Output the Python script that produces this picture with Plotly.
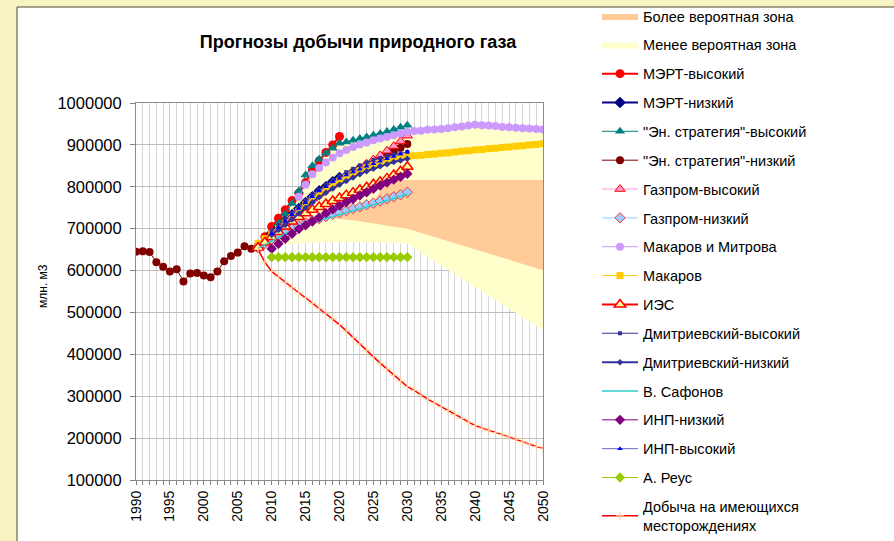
import plotly.graph_objects as go

# ---------------- data ----------------
years_hist = [1990, 1991, 1992, 1993, 1994, 1995, 1996, 1997, 1998, 1999,
              2000, 2001, 2002, 2003, 2004, 2005, 2006, 2007]
hist_vals = [645000, 646000, 644000, 620000, 609000, 598000, 603000, 574000, 593000, 594000,
             588000, 584000, 598000, 622000, 635000, 643000, 658000, 652000]

years_08_20 = list(range(2008, 2021))
years_08_30 = list(range(2008, 2031))
years_10_30 = list(range(2010, 2031))
years_08_50 = list(range(2008, 2051))
years_09_50 = list(range(2009, 2051))
years_14_50 = list(range(2014, 2051))
years_15_50 = list(range(2015, 2051))

mert_high = [654000, 681000, 705000, 725000, 745000, 767000, 785000, 810000, 840000,
             862000, 882000, 900000, 920000]
mert_low = [655000, 668000, 688000, 702000, 718000, 733000, 748000, 762000, 776000,
            790000, 800000, 812000, 822000]
es_high = [655000, 672000, 692000, 712000, 735000, 760000, 790000, 828000, 850000, 866000,
           880000, 892000, 904000, 907000, 911000, 915000, 919000, 923000, 927000, 932000,
           937000, 942000, 947000]
es_low_proj = [660000, 672000, 686000, 700000, 714000, 728000, 742000, 755000, 768000, 781000,
               794000, 806000, 816000, 826000, 835000, 844000, 852000, 860000, 868000, 876000,
               884000, 893000, 902000]
gazprom_high = [655000, 672000, 688000, 702000, 716000, 730000, 745000, 760000, 772000, 784000,
                795000, 805000, 815000, 825000, 835000, 845000, 855000, 865000, 875000, 886000,
                897000, 909000, 922000]
gazprom_low = [655000, 665000, 675000, 685000, 693000, 700000, 707000, 714000, 719000, 724000,
               729000, 734000, 738000, 743000, 748000, 752000, 757000, 761000, 766000, 771000,
               776000, 781000, 787000]
makarov_mitrova = [776000, 805000, 830000, 845000, 858000, 870000, 880000, 888000, 895000, 901000,
                   906000, 911000, 915000, 919000, 923000, 927000, 931000, 933000, 934000, 936000,
                   937000, 938000, 940000, 942000, 944000, 946000, 948000, 947000, 946000, 945000,
                   943000, 942000, 941000, 940000, 939000, 938000, 937000]
makarov = [665000, 676000, 688000, 700000, 713000, 727000, 742000, 757000, 770000, 782000,
           793000, 804000, 814000, 823000, 831000, 839000, 846000, 852000, 857000, 862000,
           866000, 869000, 872000, 874000, 875000, 877000, 878000, 880000, 881000, 883000,
           885000, 886000, 888000, 889000, 891000, 892000, 894000, 895000, 897000, 898000,
           900000, 901000, 903000]
ies = [655000, 667000, 680000, 692000, 705000, 717000, 728000, 737000, 745000, 752000,
       759000, 766000, 773000, 780000, 786000, 793000, 799000, 806000, 812000, 820000,
       828000, 837000, 848000]
dmitr_high = [695000, 708000, 722000, 737000, 752000, 767000, 781000, 793000, 805000, 816000,
              826000, 835000, 843000, 851000, 858000, 864000, 869000, 873000, 877000, 880000,
              883000]
dmitr_low = [685000, 697000, 709000, 722000, 736000, 750000, 763000, 775000, 786000, 796000,
             805000, 814000, 822000, 830000, 837000, 843000, 849000, 854000, 859000, 863000,
             867000]
safonov = [653000, 662000, 671000, 680000, 688000, 695000, 702000, 709000, 714000, 719000,
           724000, 729000, 733000, 738000, 743000, 747000, 752000, 756000, 761000, 766000,
           771000, 776000, 782000]
inp_low = [652000, 664000, 676000, 688000, 699000, 708000, 717000, 727000, 737000, 746000,
           755000, 763000, 771000, 779000, 787000, 795000, 803000, 810000, 817000, 824000,
           831000]
inp_high = [688000, 702000, 718000, 733000, 748000, 762000, 776000, 790000, 800000, 812000,
            820000, 828000, 835000, 842000, 849000, 855000, 861000, 867000, 872000, 878000,
            884000]
reus = [632000, 632000, 632000, 632000, 632000, 632000, 632000, 632000, 632000, 632000,
        632000, 632000, 632000, 632000, 632000, 632000, 632000, 632000, 632000, 632000,
        632000]
decline = [650000, 620000, 598000, 585000, 571000, 559000, 547000, 535000, 522000, 510000,
           498000, 485000, 471000, 456000, 440000, 425000, 410000, 394000, 379000, 365000,
           350000, 336000, 323000, 314000, 303000, 293000, 284000, 275000, 266000, 256000,
           247000, 238000, 230000, 224000, 219000, 213000, 208000, 203000, 197000, 191000,
           186000, 180000, 176000]

zone_low_upper = [678000, 700000, 720000, 740000, 762000, 782000, 805000, 835000, 858000, 878000,
                  895000, 903000, 907000, 911000, 915000, 918000, 921000, 924000, 926000, 928000,
                  930000, 932000, 933000, 934000, 936000, 937000, 938000, 940000, 942000, 944000,
                  946000, 948000, 947000, 946000, 945000, 943000, 942000, 941000, 940000, 939000,
                  938000, 937000]
zone_low_lower = [655000, 658000, 660000, 662000, 664000, 665000, 666000, 667000, 668000, 668000,
                  668000, 668000, 668000, 668000, 668000, 668000, 667000, 667000, 666000, 666000,
                  665000, 664000, 654000, 643000, 633000, 622000, 612000, 602000, 591000, 581000,
                  571000, 561000, 550000, 540000, 530000, 520000, 509000, 499000, 489000, 479000,
                  468000, 458000]
zone_high_upper = [714000, 719000, 724000, 729000, 734000, 738000, 743000, 748000, 752000, 757000,
                   761000, 790000, 816000, 816000, 816000, 816000, 816000, 816000, 816000, 816000,
                   816000, 816000, 816000, 816000, 816000, 816000, 816000, 816000, 816000, 816000,
                   816000, 816000, 816000, 816000, 816000, 816000]
zone_high_lower = [714000, 720000, 724000, 725000, 725000, 724000, 722000, 720000, 718000, 716000,
                   713000, 710000, 707000, 704000, 702000, 700000, 695000, 690000, 685000, 680000,
                   675000, 670000, 665000, 660000, 655000, 650000, 645000, 640000, 636000, 631000,
                   626000, 621000, 616000, 611000, 606000, 601000]

x_tick_labels = ["1990", "1995", "2000", "2005", "2010", "2015", "2020", "2025", "2030",
                 "2035", "2040", "2045", "2050"]
y_tick_labels = ["100000", "200000", "300000", "400000", "500000", "600000", "700000",
                 "800000", "900000", "1000000"]

# ---------------- figure ----------------
FONT = "Arial, 'Liberation Sans', sans-serif"
W, H = 894, 541
L, R, T, B = 136, 543, 103, 480

fig = go.Figure()
rank = [0]

def next_rank():
    rank[0] += 1
    return rank[0]

def zone(name, xs, upper, lower, color, lrank):
    fig.add_trace(go.Scatter(
        x=xs + xs[::-1], y=upper + lower[::-1], name=name, mode="lines",
        fill="toself", fillcolor=color, line=dict(width=0, color=color),
        legendgroup=name, legendrank=lrank, hoverinfo="skip"))

zone("Менее вероятная зона", years_09_50, zone_low_upper, zone_low_lower, "#FFFFCC", 2)
zone("Более вероятная зона", years_15_50, zone_high_upper, zone_high_lower, "#FFCC99", 1)

def series(name, xs, ys, lcolor, lwidth, symbol=None, msize=8, mcolor=None,
           mline=None, mlw=0):
    mode = "lines+markers" if symbol else "lines"
    marker = dict(symbol=symbol, size=msize, color=mcolor or lcolor,
                  line=dict(color=mline or (mcolor or lcolor), width=mlw)) if symbol else None
    fig.add_trace(go.Scatter(x=xs, y=ys, name=name, mode=mode,
                             line=dict(color=lcolor, width=lwidth),
                             marker=marker, legendgroup=name,
                             legendrank=10 + next_rank()))

series("МЭРТ-высокий", years_08_20, mert_high, "#FF0000", 2, "circle", 9)
series("МЭРТ-низкий", years_08_20, mert_low, "#000080", 2, "diamond", 9)
series("\"Эн. стратегия\"-высокий", years_08_30, es_high, "#008080", 1, "triangle-up", 9)
series("\"Эн. стратегия\"-низкий", years_hist + years_08_30, hist_vals + es_low_proj,
       "#800000", 1, "circle", 8)
series("Газпром-высокий", years_08_30, gazprom_high, "#FF99CC", 1, "triangle-up", 9,
       mcolor="#FF99CC", mline="#FF0000", mlw=1)
series("Газпром-низкий", years_08_30, gazprom_low, "#99CCFF", 1, "diamond", 8,
       mcolor="#99CCFF", mline="#FF3333", mlw=1)
series("Макаров и Митрова", years_14_50, makarov_mitrova, "#CC99FF", 1, "circle", 8)
series("Макаров", years_08_50, makarov, "#FFCC00", 1, "square", 7)
series("ИЭС", years_08_30, ies, "#FF0000", 2, "triangle-up", 10,
       mcolor="#FFFF99", mline="#FF0000", mlw=1.5)
series("Дмитриевский-высокий", years_10_30, dmitr_high, "#333399", 1, "square", 4)
series("Дмитриевский-низкий", years_10_30, dmitr_low, "#333399", 2, "diamond", 5)
series("В. Сафонов", years_08_30, safonov, "#33CCCC", 1.5)
series("ИНП-низкий", years_10_30, inp_low, "#800080", 1, "diamond", 8)
series("ИНП-высокий", years_10_30, inp_high, "#6666CC", 1, "triangle-up", 5,
       mcolor="#0000FF")
series("А. Реус", years_10_30, reus, "#99CC00", 1, "diamond", 8)
series("Добыча на имеющихся<br>месторождениях", years_08_50, decline, "#FF0000", 1.5,
       "cross-thin-open", 6, mcolor="#FFCC99", mline="#FFCC99", mlw=1)

def px2x(px):
    return (px - L) / (R - L)

def py2y(py):
    return 1 - (py - T) / (B - T)

fig.add_shape(type="rect", xref="paper", yref="paper",
              x0=px2x(17), x1=px2x(W + 5), y0=py2y(H + 5), y1=py2y(7),
              fillcolor="white", line=dict(color="#4A4A30", width=1), layer="below")

fig.add_annotation(text="млн. м3", xref="paper", yref="paper", x=px2x(34), y=py2y(286),
                   showarrow=False, textangle=-90,
                   font=dict(family=FONT, size=12, color="black"))

fig.update_layout(
    width=W, height=H,
    margin=dict(l=L, r=W - R, t=T, b=H - B, pad=0, autoexpand=False),
    paper_bgcolor="#F7F3C2",
    plot_bgcolor="white",
    font=dict(family=FONT, color="black"),
    title=dict(text="<b>Прогнозы добычи природного газа</b>", x=px2x(358), xref="paper",
               xanchor="center", y=1 - 42 / H, yanchor="middle",
               font=dict(family=FONT, size=18, color="black")),
    showlegend=True,
    legend=dict(x=px2x(597), y=1.0, yref="container", xanchor="left", yanchor="top",
                bgcolor="rgba(0,0,0,0)", font=dict(family=FONT, size=14.5, color="black"),
                tracegroupgap=7, itemwidth=36, traceorder="grouped", maxheight=700),
    xaxis=dict(range=[1990, 2050], tickmode="array",
               tickvals=[int(t) for t in x_tick_labels], ticktext=x_tick_labels,
               tickangle=-90, tickfont=dict(family=FONT, size=14),
               showgrid=True, gridcolor="#CFCFCF", gridwidth=1,
               minor=dict(dtick=1, showgrid=True, gridcolor="#D6D6D6", ticks="outside",
                          ticklen=4, tickcolor="#808080"),
               ticks="outside", ticklen=4, tickcolor="#808080",
               showline=True, linecolor="#8C8C8C", linewidth=1, mirror=True,
               zeroline=False),
    yaxis=dict(range=[100000, 1000000], tickmode="array",
               tickvals=[int(t) for t in y_tick_labels], ticktext=y_tick_labels,
               tickfont=dict(family=FONT, size=16.5), ticklabelstandoff=5,
               showgrid=True, gridcolor="#BDBDBD", gridwidth=1,
               ticks="outside", ticklen=5, tickcolor="#808080",
               showline=True, linecolor="#8C8C8C", linewidth=1, mirror=True,
               zeroline=False),
)

fig.write_html("out.html", config={"displayModeBar": False},
               post_script="document.body.style.margin='0';document.body.style.overflow='hidden';")
